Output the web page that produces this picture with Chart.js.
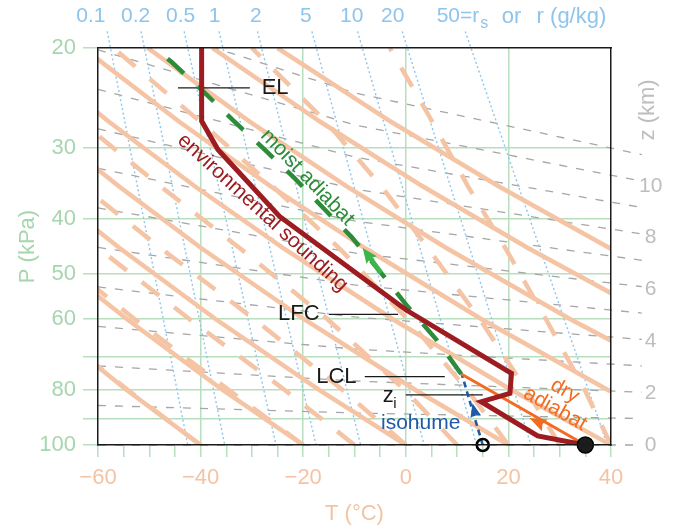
<!DOCTYPE html>
<html>
<head>
<meta charset="utf-8">
<title>Emagram</title>
<script src="https://cdn.jsdelivr.net/npm/chart.js@4.4.1/dist/chart.umd.min.js"></script>
<style>
html,body{margin:0;padding:0;background:#ffffff;overflow:hidden;}
canvas{display:block;}
</style>
</head>
<body>
<canvas id="chart" width="677" height="529"></canvas>
<script>
// ---------------- axis ticks ----------------
const temperatureTicks = [-60,-55,-50,-45,-40,-35,-30,-25,-20,-15,-10,-5,0,5,10,15,20,25,30,35,40];
const temperatureLabels = [-60,-40,-20,0,20,40];
const pressureTicks = [20,30,40,50,60,70,80,90,100];
const pressureLabels = [20,30,40,50,60,80,100];
const heightLabels = [0,2,4,6,8,10];

// ---------------- environmental sounding (T in degC, P in kPa) ----------------
const soundingT = [35,25.7,14.7,20.3,20.6,0,-24.6,-36.6,-39.8,-39.8];
const soundingP = [100,96.4,83.9,81.1,74.8,57.8,39.6,30.2,26.9,20];

// ---------------- parcel paths ----------------
const moistPathT = [10.8,6.0,0.4,-4.8,-10.6,-15.8,-21.7,-27.5,-33.7,-39.8,-45.7,-50.2];
const moistPathP = [75,65.3,57.1,49.8,43.0,38.5,33.9,30.2,26.8,23.7,21.15,19.6];
const dryPathT = [35,10.8];
const dryPathP = [100,75];
const isohumePathT = [15,10.9];
const isohumePathP = [100,75];
const surfaceT = [35], surfaceP = [100];
const dewpointT = [15], dewpointP = [100];

// ---------------- annotation leader lines ----------------
const leaderNames = ['EL','LFC','LCL','zi'];
const leaderStartT = [-44.4,-15.0,-8.0,0.0];
const leaderEndT   = [-30.4,-1.5,7.6,15.0];
const leaderP      = [23.5,58.9,75.8,81.6];

// ---------------- dry adiabats (solid) ----------------
const adiabatP = [100,80,60,45,35,27,20];
const dryAdiabatT = [
  [-40,-54.4,-71.7],
  [-20,-35.7,-54.4,-71.7],
  [0,-16.9,-37.1,-55.8,-70.9],
  [20,1.9,-19.9,-39.9,-56.0,-71.6],
  [40,20.6,-2.6,-23.9,-41.2,-57.8,-75.5],
  [60,39.4,14.7,-8.0,-26.4,-44.1,-62.9],
  [80,58.2,32.0,7.9,-11.6,-30.3,-50.3],
  [100,76.9,49.3,23.8,3.2,-16.6,-37.7],
  [120,95.7,66.6,39.7,18.0,-2.8,-25.0]
];
// ---------------- moist adiabats (dashed) ----------------
const moistAdiabatT = [
  [-40,-54.2,-71.6],
  [-20,-34.5,-52.9,-70.1],
  [-10,-23.6,-42.2,-60.0,-74.9],
  [0,-12.3,-29.6,-47.8,-63.0],
  [10,-0.2,-15.3,-32.4,-47.9,-63.2],
  [20,12.0,0.3,-13.0,-26.0,-40.0,-57.0],
  [30,23.5,14.4,4.3,-4.8,-15.5,-30.0],
  [40,34.9,27.3,19.4,12.1,5.2,-3.1]
];

// ---------------- isohumes (mixing ratio, g/kg) ----------------
const mixingRatioLabels = ['0.1','0.2','0.5','1','2','5','10','20'];
const mixingRatioTopT    = [-58.2,-51.6,-43.2,-36.4,-28.9,-18.3,-9.4,-0.7,11.6];
const mixingRatioBottomT = [-42.5,-35.3,-25.3,-17.5,-8.8,3.6,13.8,24.4,39.3];
const mixingRatioTopP = 18.7;
const mixingRatioLabelT = [-61.4,-52.65,-43.9,-37.25,-29.25,-19.5,-10.55,-2.55];
const mixingRatioLastLabelT = [6.02, 18.7, 25.5]; // "50=r_s", "or", "r (g/kg)"
const mixingRatioLabelP = 17.6;

// ---------------- height lines (km) ----------------
const heightKm = [0,1,2,3,4,5,6,7,8,9,10,11];
const heightLineT = [-60,-10,46];
const heightLineP = [
  [100,100,100],[85.20,87.83,89.85],[72.59,77.14,80.74],[61.84,67.76,72.55],
  [52.69,59.51,65.18],[44.89,52.27,58.57],[38.25,45.91,52.63],[32.58,40.32,47.29],
  [27.76,35.42,42.49],[23.65,31.11,38.18],[20.15,27.32,34.31],[17.17,23.99,30.82]
];

// ---------------- text annotations ----------------
const noteText = ['EL','LFC','LCL','isohume','environmental sounding','moist adiabat','dry','adiabat'];
const noteT = [-28.1,-16.8,-9.6,2.9,-27.9,-19.2,31.0,29.1];
const noteP = [23.5,58.9,75.8,91.5,39.0,33.8,80.3,86.4];
const ziT = -4.5, ziP = 84.0;
const zTitleKm = 12.93;

// arrow heads: tip and a point behind it on the path
const arrowTipT = [-8.4,24.1,13.0];
const arrowTipP = [45.0,89.6,84.4];
const arrowBackT = [-4.76,35,15];
const arrowBackP = [49.8,100,100];

// ---------------- styles ----------------
const FONT = "'Liberation Sans', Arial, Helvetica, sans-serif";
const C_GREEN_TXT = '#a6d6ad';
const C_GRID = '#b8dfbd';
const C_SALMON = '#f5c4a5';
const C_SALMON_TXT = '#f4c3a3';
const C_BLUE_LIGHT = '#8ec5ec';
const C_GRAY = '#a6a6a6';
const C_GRAY_TXT = '#bdbdbd';
const C_RED = '#9c1c21';
const C_GREEN = '#2c8c3a';
const C_ORANGE = '#f26b22';
const C_BLUE = '#1f5aa8';

Chart.defaults.font.family = FONT;

function pts(Ts, Ps) { return Ts.map((t, i) => ({x: t, y: Ps[i]})); }
function line(data, opts) {
  return Object.assign({type: 'scatter', showLine: true, data, pointRadius: 0, borderWidth: 1,
    fill: false, tension: 0}, opts);
}

const datasets = [];
heightKm.forEach((z, i) => {
  datasets.push(line(pts(heightLineT, heightLineP[i]), {
    borderColor: C_GRAY, borderWidth: 1.3, borderDash: [8, 9],
    clip: {left: 0, top: 0, right: 32, bottom: 3}, order: 20}));
});
mixingRatioTopT.forEach((t, i) => {
  datasets.push(line(pts([t, mixingRatioBottomT[i]], [mixingRatioTopP, 100]), {
    borderColor: C_BLUE_LIGHT, borderWidth: 1.4, borderDash: [2, 2.6],
    clip: {left: 0, top: 20, right: 0, bottom: 0}, order: 19}));
});
dryAdiabatT.forEach(Ts => {
  datasets.push(line(pts(Ts, adiabatP.slice(0, Ts.length)), {
    borderColor: C_SALMON, borderWidth: 4.5, borderCapStyle: 'butt', order: 18}));
});
moistAdiabatT.forEach(Ts => {
  datasets.push(line(pts(Ts, adiabatP.slice(0, Ts.length)), {
    borderColor: C_SALMON, borderWidth: 4.5, borderDash: [22, 19], borderCapStyle: 'butt', order: 17}));
});
leaderNames.forEach((n, i) => {
  datasets.push(line(pts([leaderStartT[i], leaderEndT[i]], [leaderP[i], leaderP[i]]), {
    borderColor: '#1a1a1a', borderWidth: 1.3, order: 6}));
});
datasets.push(line(pts(isohumePathT, isohumePathP), {borderColor: C_BLUE, borderWidth: 2.6, borderDash: [6, 4], order: 5}));
datasets.push(line(pts(dryPathT, dryPathP), {borderColor: C_ORANGE, borderWidth: 3, order: 4}));
datasets.push(line(pts(moistPathT, moistPathP), {borderColor: C_GREEN, borderWidth: 4.5, borderDash: [22, 19], borderCapStyle: 'butt', order: 3}));
datasets.push(line(pts(soundingT, soundingP), {borderColor: C_RED, borderWidth: 5, borderJoinStyle: 'miter', order: 2}));
datasets.push({type: 'scatter', data: pts(surfaceT, surfaceP), pointRadius: 8, pointBackgroundColor: '#1c1c1c',
  pointBorderColor: '#000', pointBorderWidth: 1.5, showLine: false, clip: false, order: 1});
datasets.push({type: 'scatter', data: pts(dewpointT, dewpointP), pointRadius: 6, pointBackgroundColor: 'rgba(255,255,255,0)',
  pointBorderColor: '#000', pointBorderWidth: 2.6, showLine: false, clip: false, order: 1});

function txt(ctx, s, x, y, o) {
  ctx.save();
  ctx.translate(x, y);
  if (o.angle) ctx.rotate(o.angle * Math.PI / 180);
  ctx.font = (o.size || 21) + 'px ' + FONT;
  ctx.fillStyle = o.color;
  ctx.textAlign = o.align || 'center';
  ctx.textBaseline = o.baseline || 'middle';
  ctx.fillText(s, 0, 0);
  ctx.restore();
}
function arrowHead(ctx, tx, ty, bx, by, len, half, color) {
  const a = Math.atan2(ty - by, tx - bx);
  ctx.save();
  ctx.translate(tx, ty);
  ctx.rotate(a);
  ctx.fillStyle = color;
  ctx.beginPath();
  ctx.moveTo(0, 0);
  ctx.lineTo(-len, half);
  ctx.lineTo(-len * 0.85, 0);
  ctx.lineTo(-len, -half);
  ctx.closePath();
  ctx.fill();
  ctx.restore();
}

const overlay = {
  id: 'overlay',
  afterDatasetsDraw(chart) {
    const ctx = chart.ctx;
    const xs = chart.scales.x, ys = chart.scales.y, zs = chart.scales.z;
    const px = t => xs.getPixelForValue(t), py = p => ys.getPixelForValue(p);
    // arrows
    const arrowColors = ['#3db54a', C_ORANGE, C_BLUE];
    const arrowLen = [15, 17, 14], arrowHalf = [6.5, 6.5, 5.5];
    arrowTipT.forEach((t, i) => {
      const tx = px(t), ty = py(arrowTipP[i]);
      const bx = px(arrowBackT[i]), by = py(arrowBackP[i]);
      if (i === 0) {
        const d = Math.hypot(tx - bx, ty - by);
        ctx.save();
        ctx.strokeStyle = arrowColors[0]; ctx.lineWidth = 4.5;
        ctx.beginPath(); ctx.moveTo(tx + (bx - tx) * 10 / d, ty + (by - ty) * 10 / d);
        ctx.lineTo(tx + (bx - tx) * 31 / d, ty + (by - ty) * 31 / d); ctx.stroke();
        ctx.restore();
      }
      arrowHead(ctx, tx, ty, bx, by, arrowLen[i], arrowHalf[i], arrowColors[i]);
    });
    // annotations
    const black = '#1a1a1a';
    txt(ctx, noteText[0], px(noteT[0]), py(noteP[0]), {color: black, size: 22, align: 'left'});
    txt(ctx, noteText[1], px(noteT[1]), py(noteP[1]), {color: black, size: 22, align: 'right'});
    txt(ctx, noteText[2], px(noteT[2]), py(noteP[2]), {color: black, size: 22, align: 'right'});
    txt(ctx, noteText[3], px(noteT[3]), py(noteP[3]), {color: C_BLUE, size: 21});
    txt(ctx, noteText[4], px(noteT[4]), py(noteP[4]), {color: C_RED, size: 21, angle: 42.5});
    txt(ctx, noteText[5], px(noteT[5]), py(noteP[5]), {color: C_GREEN, size: 21, angle: 46});
    txt(ctx, noteText[6], px(noteT[6]), py(noteP[6]), {color: C_ORANGE, size: 21, angle: 29.5});
    txt(ctx, noteText[7], px(noteT[7]), py(noteP[7]), {color: C_ORANGE, size: 21, angle: 29.5});
    // z_i
    const zx = px(ziT), zy = py(ziP);
    txt(ctx, 'z', zx, zy, {color: black, size: 22, align: 'left', baseline: 'alphabetic'});
    ctx.font = '22px ' + FONT;
    const zw = ctx.measureText('z').width;
    txt(ctx, 'i', zx + zw - 0.5, zy + 6, {color: black, size: 15, align: 'left', baseline: 'alphabetic'});
    // mixing ratio labels
    const ly = py(mixingRatioLabelP);
    mixingRatioLabels.forEach((s, i) => txt(ctx, s, px(mixingRatioLabelT[i]), ly, {color: C_BLUE_LIGHT, size: 21}));
    let lx = px(mixingRatioLastLabelT[0]);
    ctx.font = '21px ' + FONT;
    txt(ctx, '50=r', lx, ly, {color: C_BLUE_LIGHT, size: 21, align: 'left'});
    lx += ctx.measureText('50=r').width;
    txt(ctx, 's', lx + 1, ly + 7, {color: C_BLUE_LIGHT, size: 16, align: 'left'});
    txt(ctx, 'or', px(mixingRatioLastLabelT[1]), ly, {color: C_BLUE_LIGHT, size: 22, align: 'left'});
    txt(ctx, 'r (g/kg)', px(mixingRatioLastLabelT[2]), ly, {color: C_BLUE_LIGHT, size: 22, align: 'left'});
    // z (km) title
    txt(ctx, 'z (km)', chart.chartArea.right + 36.5, zs.getPixelForValue(zTitleKm), {color: C_GRAY_TXT, size: 22, angle: -90});
  }
};

new Chart(document.getElementById('chart'), {
  type: 'scatter',
  data: {datasets},
  options: {
    responsive: false,
    animation: false,
    devicePixelRatio: 1,
    events: [],
    layout: {padding: 0},
    plugins: {legend: {display: false}, tooltip: {enabled: false}},
    elements: {point: {radius: 0}, line: {tension: 0}},
    scales: {
      x: {
        type: 'linear', position: 'bottom', min: -60, max: 40,
        afterBuildTicks: s => { s.ticks = temperatureTicks.map(v => ({value: v})); },
        afterFit: s => { s.height = 84; },
        ticks: {
          autoSkip: false, maxRotation: 0, color: C_SALMON_TXT, padding: 8,
          font: {size: 22},
          callback: v => temperatureLabels.includes(v) ? (v < 0 ? '\u2212' + Math.abs(v) : String(v)) : ''
        },
        grid: {
          lineWidth: 1.5, tickLength: 12, tickColor: C_GRID, tickWidth: 1.5,
          color: c => (c.tick && c.tick.value % 20 === 0 && c.tick.value !== -60 && c.tick.value !== 40) ? C_GRID : 'rgba(0,0,0,0)'
        },
        border: {display: true, color: '#1a1a1a', width: 1.5, z: 1},
        title: {display: true, text: 'T (\u00B0C)', color: C_SALMON_TXT, font: {size: 22}, padding: {top: 0, bottom: 2}}
      },
      x2: {
        type: 'linear', position: 'top', min: -60, max: 40,
        afterFit: s => { s.height = 48; },
        ticks: {display: false},
        grid: {display: false, drawTicks: false, drawOnChartArea: false},
        border: {display: true, color: '#1a1a1a', width: 1.5, z: 1}
      },
      y: {
        type: 'logarithmic', position: 'left', min: 20, max: 100, reverse: true,
        afterBuildTicks: s => { s.ticks = pressureTicks.map(v => ({value: v})); },
        afterFit: s => { s.width = 98; },
        ticks: {
          autoSkip: false, color: C_GREEN_TXT, padding: 7, font: {size: 22},
          callback: v => pressureLabels.includes(v) ? String(v) : ''
        },
        grid: {
          lineWidth: 1.5, tickLength: 15, tickColor: C_GRID, tickWidth: 1.5,
          color: c => (c.tick && (c.tick.value === 20 || c.tick.value === 100)) ? 'rgba(0,0,0,0)' : C_GRID
        },
        border: {display: true, color: '#1a1a1a', width: 1.5, z: 1},
        title: {display: true, text: 'P (kPa)', color: C_GREEN_TXT, font: {size: 22}, padding: {top: 15, bottom: 0}}
      },
      z: {
        type: 'linear', position: 'right', min: 0, max: 15.32,
        afterBuildTicks: s => { s.ticks = heightLabels.map(v => ({value: v})); },
        afterFit: s => { s.width = 66; },
        ticks: {color: C_GRAY_TXT, padding: 28, crossAlign: 'center', font: {size: 21}},
        grid: {display: false, drawOnChartArea: false, drawTicks: false},
        border: {display: true, color: '#1a1a1a', width: 1.5, z: 1}
      }
    }
  },
  plugins: [overlay]
});
</script>
</body>
</html>
